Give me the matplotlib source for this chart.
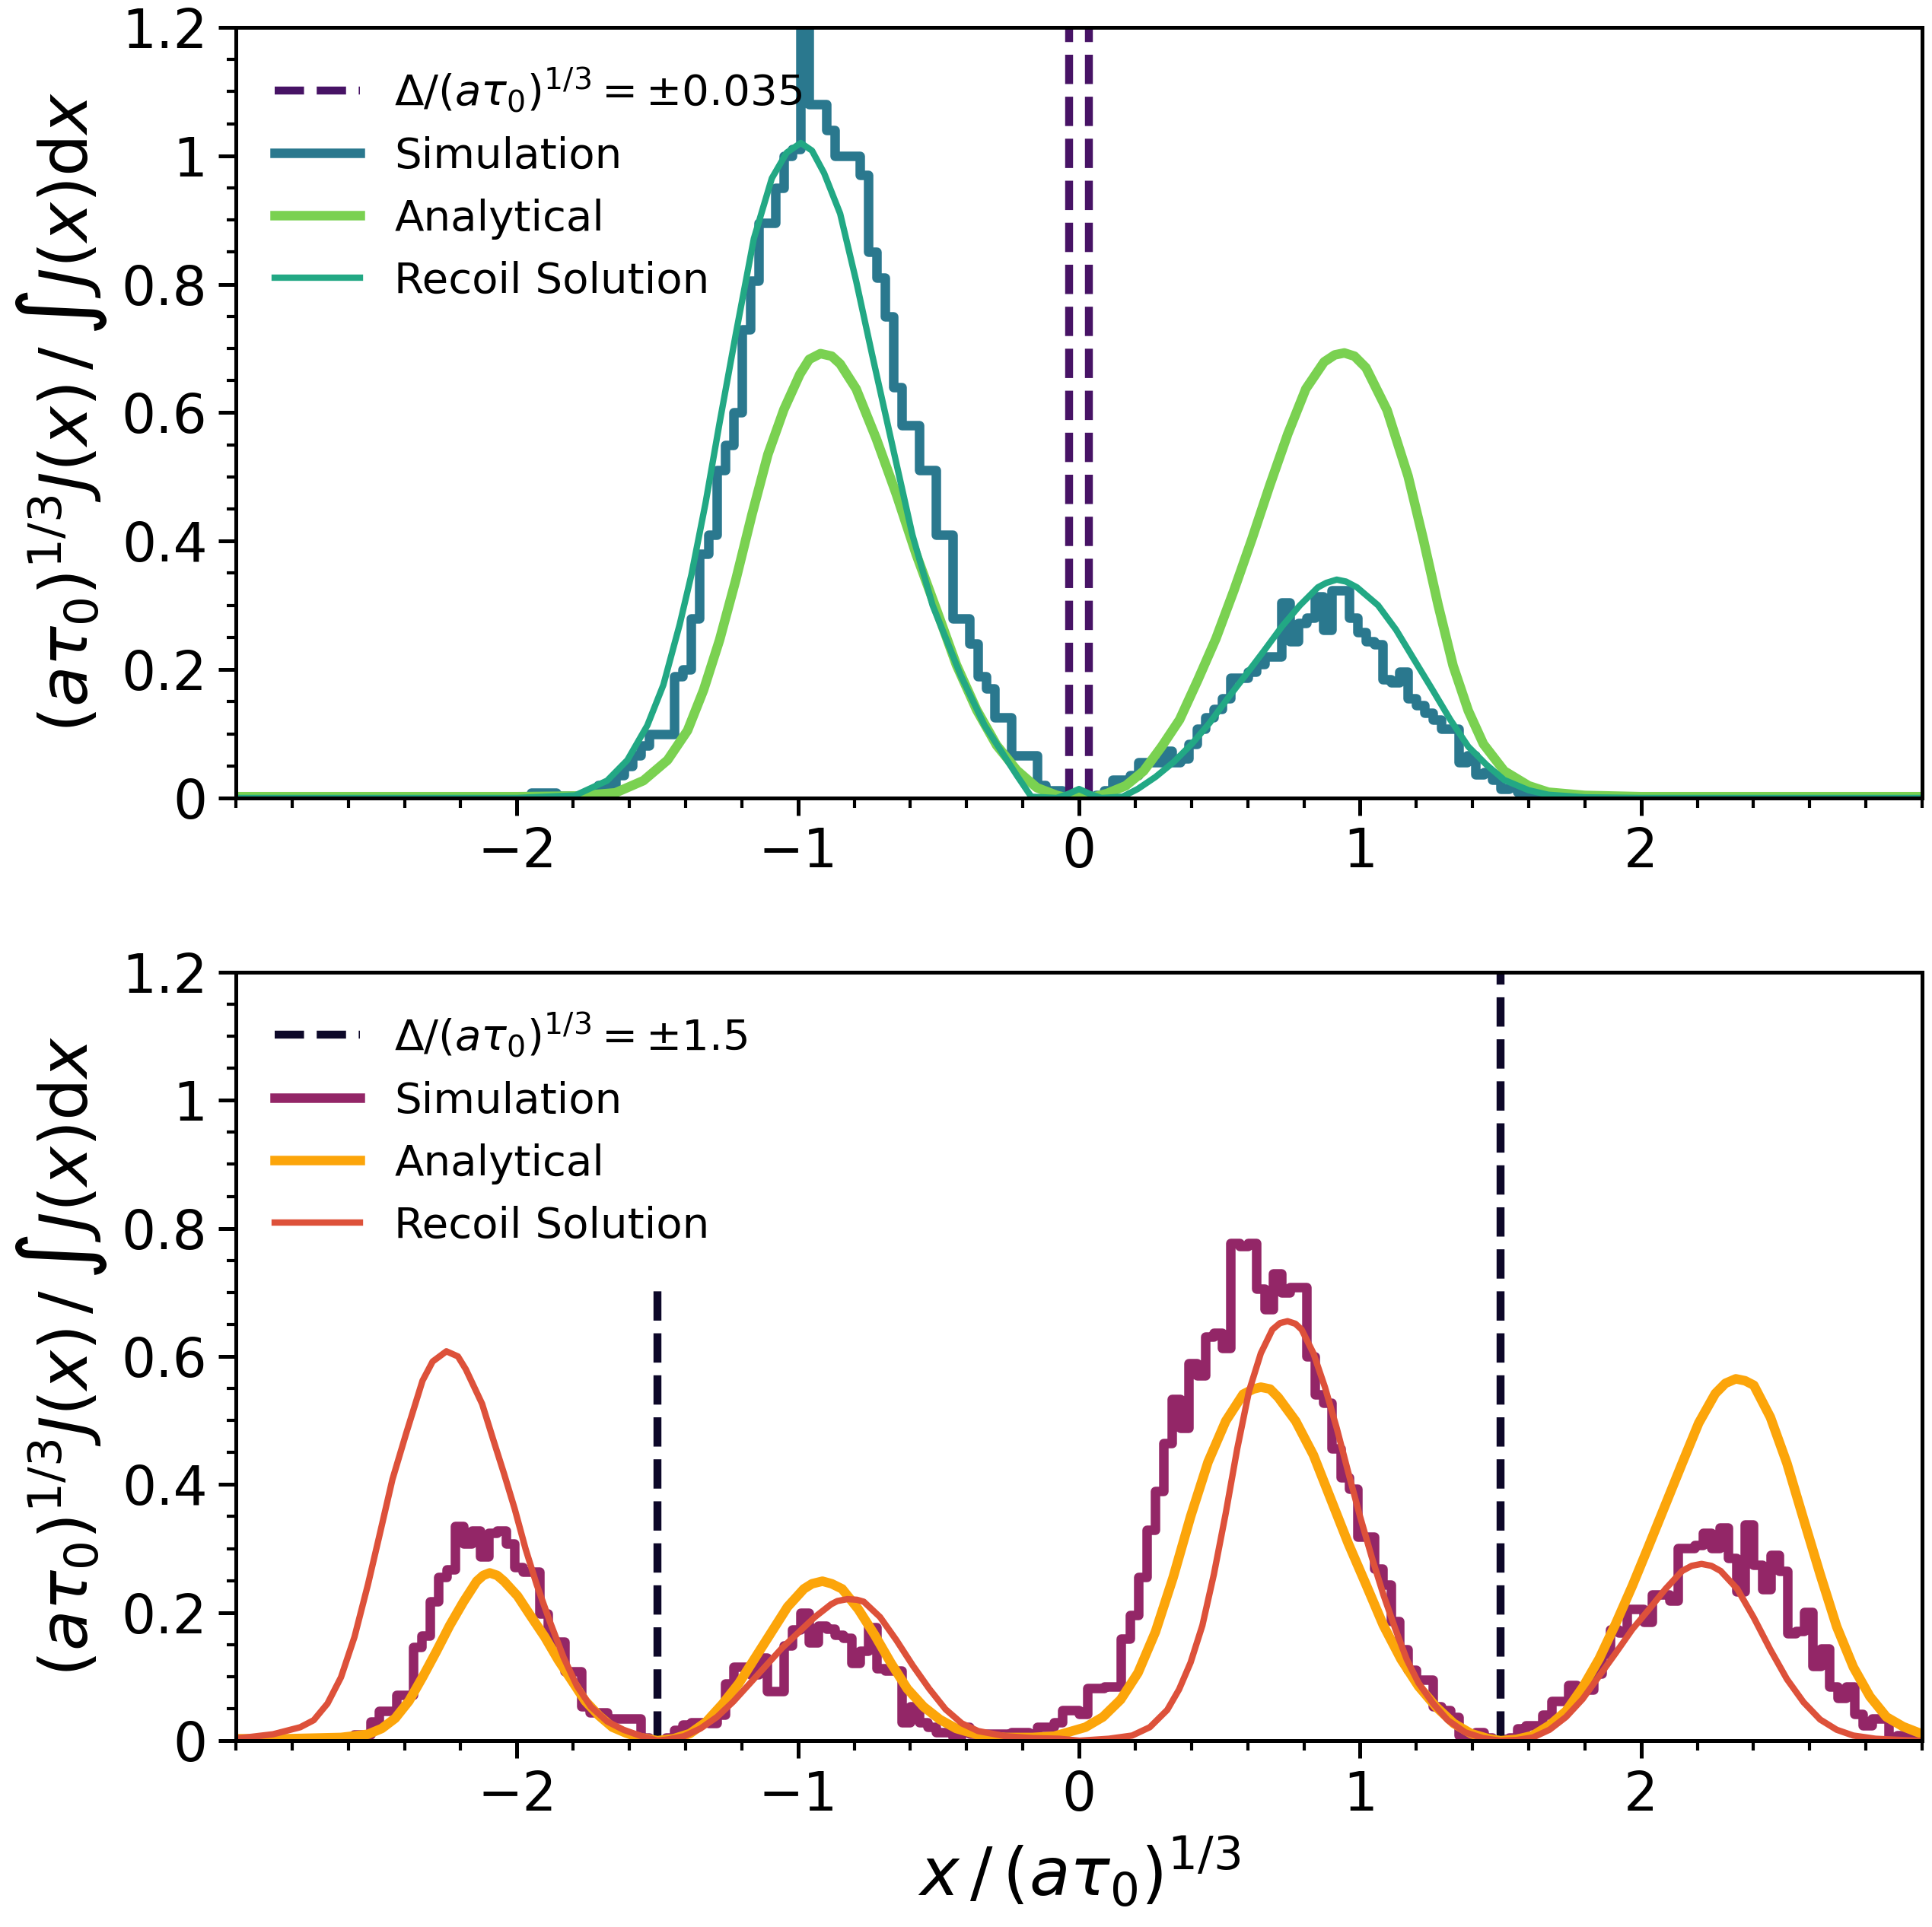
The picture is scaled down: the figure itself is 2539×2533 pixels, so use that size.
import numpy as np
import matplotlib
matplotlib.use('Agg')
import matplotlib.pyplot as plt
from matplotlib.ticker import MultipleLocator, FuncFormatter

bin_width = 0.03

# ---- top panel: Delta/(a tau0)^(1/3) = +-0.035 ----
top_shift = 0.035
top_sim_start = -1.98
top_sim = [0.0, 0.008, 0.008, 0.008, 0.004, 0.004, 0.004, 0.004, 0.012, 0.02,
           0.02, 0.035, 0.05, 0.066, 0.082, 0.10, 0.10, 0.10, 0.19, 0.20,
           0.28, 0.38, 0.41, 0.51, 0.55, 0.60, 0.73, 0.805, 0.895, 0.895,
           0.95, 1.00, 1.01, 1.30, 1.08, 1.08, 1.04, 1.00, 1.00, 1.00,
           0.97, 0.85, 0.81, 0.75, 0.64, 0.58, 0.58, 0.51, 0.51, 0.41,
           0.41, 0.28, 0.28, 0.24, 0.19, 0.17, 0.125, 0.125, 0.066, 0.066,
           0.066, 0.02, 0.012, 0.012, 0.0, 0.0, 0.0, 0.0, 0.005, 0.012,
           0.028, 0.028, 0.035, 0.056, 0.056, 0.056, 0.073, 0.056, 0.061, 0.084,
           0.108, 0.126, 0.138, 0.155, 0.187, 0.187, 0.197, 0.208, 0.22, 0.22,
           0.304, 0.244, 0.272, 0.281, 0.314, 0.262, 0.323, 0.323, 0.281, 0.258,
           0.244, 0.239, 0.185, 0.18, 0.197, 0.155, 0.145, 0.133, 0.122, 0.108,
           0.108, 0.056, 0.066, 0.037, 0.04, 0.028, 0.014, 0.016, 0.009, 0.007,
           0.005, 0.003, 0.003, 0.002, 0.002, 0.002, 0.002, 0.0]

top_ana_x = [-2.99, -2.4, -2.0, -1.79, -1.65, -1.55, -1.464, -1.393, -1.336, -1.279,
             -1.221, -1.164, -1.107, -1.05, -0.993, -0.96, -0.92, -0.88, -0.85, -0.793,
             -0.721, -0.65, -0.579, -0.507, -0.436, -0.364, -0.293, -0.221, -0.15, -0.079,
             -0.04, 0.0, 0.04, 0.10, 0.166, 0.23, 0.294, 0.358, 0.422, 0.487,
             0.551, 0.615, 0.679, 0.743, 0.807, 0.872, 0.91, 0.944, 0.98, 1.021,
             1.096, 1.171, 1.225, 1.278, 1.331, 1.385, 1.439, 1.513, 1.60, 1.67,
             1.8, 2.0, 2.99]
top_ana_y = [0.002, 0.002, 0.002, 0.003, 0.008, 0.027, 0.059, 0.105, 0.168, 0.246,
             0.34, 0.441, 0.535, 0.605, 0.66, 0.683, 0.692, 0.688, 0.676, 0.637,
             0.559, 0.473, 0.379, 0.293, 0.207, 0.137, 0.082, 0.043, 0.016, 0.004,
             0.0, 0.004, 0.0, 0.007, 0.019, 0.042, 0.08, 0.122, 0.183, 0.248,
             0.323, 0.403, 0.487, 0.567, 0.637, 0.679, 0.69, 0.693, 0.688, 0.67,
             0.604, 0.501, 0.403, 0.30, 0.206, 0.136, 0.084, 0.042, 0.019, 0.009,
             0.004, 0.002, 0.002]

top_rec_x = [-2.99, -2.0, -1.793, -1.679, -1.607, -1.536, -1.479, -1.421, -1.379, -1.329,
             -1.279, -1.221, -1.157, -1.093, -1.04, -0.99, -0.95, -0.907, -0.85, -0.793,
             -0.736, -0.657, -0.593, -0.521, -0.421, -0.336, -0.221, -0.17, -0.08, -0.04,
             0.0, 0.04, 0.08, 0.155, 0.209, 0.273, 0.337, 0.401, 0.465, 0.529,
             0.594, 0.658, 0.722, 0.786, 0.85, 0.88, 0.917, 0.95, 0.989, 1.064,
             1.128, 1.193, 1.257, 1.321, 1.385, 1.449, 1.513, 1.60, 1.67, 1.8,
             2.0, 2.99]
top_rec_y = [0.0, 0.0, 0.004, 0.027, 0.059, 0.113, 0.176, 0.27, 0.348, 0.459,
             0.584, 0.723, 0.871, 0.965, 1.005, 1.02, 1.008, 0.973, 0.91, 0.805,
             0.69, 0.535, 0.41, 0.30, 0.191, 0.113, 0.035, 0.002, 0.0, 0.006,
             0.014, 0.006, 0.0, 0.002, 0.014, 0.033, 0.056, 0.084, 0.117, 0.155,
             0.192, 0.229, 0.267, 0.30, 0.328, 0.335, 0.340, 0.337, 0.328, 0.30,
             0.262, 0.215, 0.169, 0.122, 0.08, 0.052, 0.028, 0.012, 0.005, 0.001,
             0.0, 0.0]

# ---- bottom panel: Delta/(a tau0)^(1/3) = +-1.5 ----
bot_shift = 1.5
bot_sim_start = -2.73
bot_sim = [0.002, 0.003, 0.005, 0.005, 0.005, 0.01, 0.01, 0.03, 0.046, 0.046,
           0.071, 0.071, 0.146, 0.164, 0.217, 0.255, 0.267, 0.335, 0.308, 0.328,
           0.287, 0.324, 0.328, 0.308, 0.271, 0.264, 0.264, 0.199, 0.155, 0.155,
           0.108, 0.108, 0.053, 0.044, 0.044, 0.035, 0.035, 0.035, 0.035, 0.005,
           0.0, 0.0, 0.005, 0.017, 0.025, 0.029, 0.029, 0.027, 0.041, 0.089,
           0.115, 0.115, 0.103, 0.129, 0.077, 0.077, 0.149, 0.173, 0.20, 0.153,
           0.179, 0.175, 0.165, 0.161, 0.121, 0.14, 0.177, 0.113, 0.109, 0.109,
           0.029, 0.053, 0.029, 0.021, 0.013, 0.013, 0.005, 0.021, 0.011, 0.011,
           0.011, 0.011, 0.011, 0.013, 0.013, 0.011, 0.021, 0.021, 0.029, 0.047,
           0.047, 0.042, 0.082, 0.082, 0.085, 0.085, 0.159, 0.196, 0.255, 0.329,
           0.39, 0.464, 0.533, 0.488, 0.589, 0.57, 0.631, 0.637, 0.613, 0.777,
           0.772, 0.777, 0.706, 0.674, 0.729, 0.70, 0.708, 0.708, 0.60, 0.541,
           0.528, 0.456, 0.411, 0.393, 0.318, 0.318, 0.268, 0.244, 0.186, 0.143,
           0.111, 0.095, 0.095, 0.053, 0.048, 0.037, 0.008, 0.008, 0.013, 0.005,
           0.0, 0.003, 0.005, 0.019, 0.024, 0.024, 0.04, 0.062, 0.062, 0.087,
           0.08, 0.08, 0.105, 0.135, 0.174, 0.169, 0.205, 0.205, 0.185, 0.228,
           0.228, 0.219, 0.301, 0.301, 0.305, 0.324, 0.301, 0.333, 0.285, 0.233,
           0.337, 0.274, 0.237, 0.29, 0.265, 0.167, 0.171, 0.201, 0.117, 0.144,
           0.085, 0.067, 0.085, 0.042, 0.024, 0.035, 0.035, 0.005, 0.008, 0.008,
           0.008]

bot_ana_x = [-2.99, -2.819, -2.626, -2.53, -2.481, -2.433, -2.384, -2.336, -2.287, -2.239,
             -2.19, -2.143, -2.12, -2.097, -2.07, -2.046, -1.998, -1.95, -1.901, -1.853,
             -1.805, -1.757, -1.708, -1.66, -1.612, -1.563, -1.50, -1.443, -1.385, -1.327,
             -1.269, -1.211, -1.153, -1.095, -1.037, -0.979, -0.95, -0.913, -0.88, -0.843,
             -0.785, -0.727, -0.669, -0.611, -0.553, -0.495, -0.437, -0.359, -0.262, -0.166,
             -0.088, -0.04, 0.023, 0.085, 0.148, 0.21, 0.272, 0.335, 0.397, 0.459,
             0.522, 0.584, 0.62, 0.647, 0.68, 0.709, 0.771, 0.834, 0.896, 0.958,
             1.021, 1.083, 1.146, 1.208, 1.27, 1.333, 1.395, 1.457, 1.50, 1.556,
             1.615, 1.674, 1.733, 1.792, 1.851, 1.91, 1.969, 2.028, 2.087, 2.146,
             2.205, 2.264, 2.30, 2.337, 2.37, 2.401, 2.46, 2.519, 2.578, 2.637,
             2.696, 2.755, 2.814, 2.873, 2.932, 2.99]
bot_ana_y = [0.003, 0.003, 0.005, 0.01, 0.019, 0.035, 0.062, 0.099, 0.139, 0.18,
             0.217, 0.249, 0.258, 0.262, 0.258, 0.249, 0.226, 0.194, 0.162, 0.126,
             0.094, 0.062, 0.039, 0.021, 0.012, 0.005, 0.0, 0.003, 0.011, 0.029,
             0.057, 0.089, 0.129, 0.169, 0.209, 0.237, 0.245, 0.249, 0.245, 0.237,
             0.205, 0.165, 0.121, 0.081, 0.053, 0.033, 0.019, 0.009, 0.005, 0.005,
             0.007, 0.013, 0.021, 0.037, 0.064, 0.106, 0.17, 0.255, 0.35, 0.435,
             0.499, 0.541, 0.549, 0.552, 0.549, 0.536, 0.499, 0.446, 0.377, 0.308,
             0.244, 0.18, 0.127, 0.085, 0.053, 0.027, 0.011, 0.003, 0.0, 0.002,
             0.008, 0.024, 0.046, 0.083, 0.128, 0.183, 0.242, 0.305, 0.369, 0.433,
             0.496, 0.542, 0.558, 0.565, 0.562, 0.555, 0.505, 0.433, 0.346, 0.26,
             0.178, 0.115, 0.069, 0.037, 0.022, 0.012]

bot_rec_x = [-2.99, -2.964, -2.868, -2.771, -2.723, -2.674, -2.626, -2.578, -2.53, -2.491,
             -2.443, -2.394, -2.336, -2.30, -2.251, -2.21, -2.182, -2.124, -2.085, -2.046,
             -2.008, -1.969, -1.93, -1.882, -1.834, -1.786, -1.737, -1.679, -1.621, -1.563,
             -1.524, -1.50, -1.463, -1.405, -1.347, -1.288, -1.23, -1.172, -1.114, -1.056,
             -0.998, -0.94, -0.882, -0.86, -0.824, -0.79, -0.766, -0.708, -0.65, -0.591,
             -0.533, -0.475, -0.417, -0.359, -0.262, -0.166, -0.07, 0.002, 0.106, 0.189,
             0.252, 0.314, 0.356, 0.397, 0.439, 0.48, 0.522, 0.563, 0.605, 0.647,
             0.688, 0.715, 0.742, 0.77, 0.792, 0.834, 0.875, 0.917, 0.958, 1.0,
             1.042, 1.083, 1.125, 1.166, 1.208, 1.26, 1.312, 1.374, 1.437, 1.499,
             1.556, 1.615, 1.674, 1.733, 1.792, 1.851, 1.91, 1.969, 2.028, 2.087,
             2.146, 2.18, 2.215, 2.25, 2.283, 2.342, 2.401, 2.46, 2.519, 2.578,
             2.637, 2.696, 2.755, 2.834, 2.932, 2.99]
bot_rec_y = [0.004, 0.005, 0.01, 0.021, 0.032, 0.058, 0.099, 0.162, 0.244, 0.317,
             0.408, 0.48, 0.562, 0.592, 0.608, 0.600, 0.58, 0.526, 0.471, 0.417,
             0.362, 0.299, 0.244, 0.185, 0.13, 0.085, 0.053, 0.03, 0.017, 0.008,
             0.003, 0.0, 0.002, 0.007, 0.019, 0.037, 0.061, 0.089, 0.117, 0.145,
             0.169, 0.193, 0.213, 0.218, 0.221, 0.220, 0.217, 0.193, 0.157, 0.117,
             0.081, 0.049, 0.027, 0.015, 0.007, 0.004, 0.003, 0.0, 0.003, 0.008,
             0.021, 0.048, 0.08, 0.122, 0.18, 0.26, 0.355, 0.456, 0.546, 0.605,
             0.642, 0.652, 0.655, 0.651, 0.642, 0.605, 0.552, 0.488, 0.419, 0.35,
             0.286, 0.228, 0.175, 0.127, 0.09, 0.058, 0.032, 0.013, 0.004, 0.0,
             0.001, 0.005, 0.017, 0.037, 0.065, 0.101, 0.137, 0.174, 0.205, 0.237,
             0.265, 0.273, 0.276, 0.273, 0.265, 0.237, 0.192, 0.142, 0.096, 0.06,
             0.033, 0.017, 0.008, 0.003, 0.001, 0.0]

top_colors = {'dash': '#471365', 'sim': '#2a788e', 'ana': '#7ad151', 'rec': '#22a884'}
bot_colors = {'dash': '#0d0829', 'sim': '#932667', 'ana': '#fca50a', 'rec': '#dd513a'}

plt.rcParams['font.family'] = ['DejaVu Sans']
plt.rcParams['mathtext.fontset'] = 'dejavusans'

fig = plt.figure(figsize=(2539 / 300, 2533 / 300), dpi=300)
ax_top = fig.add_axes([0.1221, 0.5859, 0.8728, 0.3999])
ax_bot = fig.add_axes([0.1221, 0.0967, 0.8728, 0.3988])


def draw_panel(ax, shift, sim_start, sim, ana_x, ana_y, rec_x, rec_y, c, left_dash_top):
    edges = sim_start + bin_width * np.arange(len(sim) + 1)
    lbl = r'$\Delta/(a\tau_0)^{1/3} = \pm%g$' % shift
    ax.axvline(-shift, ymax=left_dash_top, color=c['dash'], ls='--', lw=2.5, label=lbl)
    ax.axvline(shift, color=c['dash'], ls='--', lw=2.5)
    ax.stairs(sim, edges, color=c['sim'], lw=3, label='Simulation', joinstyle='round')
    ax.plot(ana_x, ana_y, color=c['ana'], lw=3, label='Analytical')
    ax.plot(rec_x, rec_y, color=c['rec'], lw=2, label='Recoil Solution')

    ax.set_xlim(-3, 3)
    ax.set_ylim(0, 1.2)
    ax.set_xticks([-2, -1, 0, 1, 2])
    ax.xaxis.set_minor_locator(MultipleLocator(0.2))
    ax.yaxis.set_major_locator(MultipleLocator(0.2))
    ax.yaxis.set_minor_locator(MultipleLocator(0.05))
    ax.yaxis.set_major_formatter(FuncFormatter(lambda v, p: '%g' % round(v, 2)))
    ax.tick_params(which='major', length=5.5, width=1.2, labelsize=17)
    ax.tick_params(which='minor', length=3, width=1.0)
    for s in ax.spines.values():
        s.set_linewidth(1.2)
    ax.set_ylabel(r'$(a\tau_0)^{1/3}J(x)\,/\,\int J(x)\mathrm{d}x$', fontsize=21)
    ax.legend(loc='upper left', frameon=False, fontsize=13.5)


draw_panel(ax_top, top_shift, top_sim_start, top_sim, top_ana_x, top_ana_y,
           top_rec_x, top_rec_y, top_colors, 1.0)
draw_panel(ax_bot, bot_shift, bot_sim_start, bot_sim, bot_ana_x, bot_ana_y,
           bot_rec_x, bot_rec_y, bot_colors, 0.6)
ax_bot.set_xlabel(r'$x\,/\,(a\tau_0)^{1/3}$', fontsize=21)

fig.savefig('out.png', dpi=300)
